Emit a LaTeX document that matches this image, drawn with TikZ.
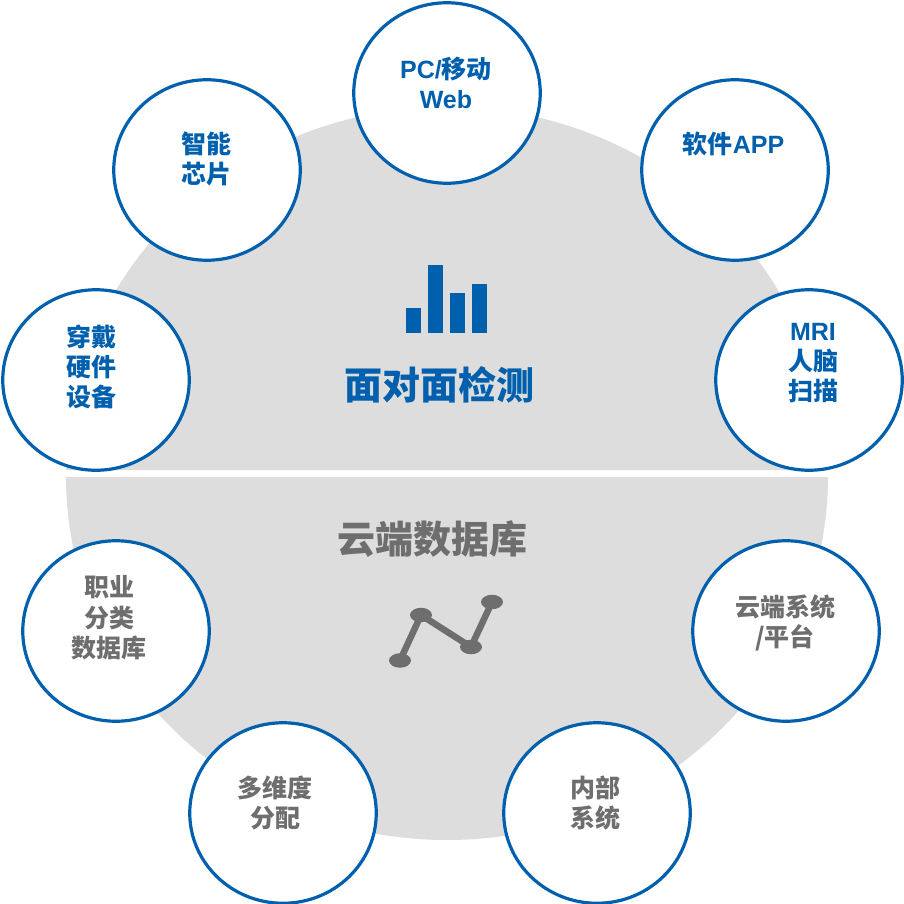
\documentclass[tikz,border=0pt]{standalone}
\usepackage{fontspec}
\setmainfont{Liberation Sans}
\newfontfamily\cjk{Noto Sans CJK SC}
\definecolor{bluec}{HTML}{0060AE}
\definecolor{grayc}{HTML}{6E6E6E}
\definecolor{disc}{HTML}{DDDDDD}
\tikzset{
  bubble/.style={draw=bluec,line width=3.2pt,fill=white,ellipse,minimum width=186.5pt,minimum height=180.5pt,inner sep=0pt},
  btext/.style={text=bluec,font=\fontsize{25}{30.3}\selectfont\bfseries\cjk,align=center,inner sep=0pt},
  gtext/.style={text=grayc,font=\fontsize{25}{30.3}\selectfont\bfseries\cjk,align=center,inner sep=0pt},
  bar/.style={fill=bluec,draw=none},
  dot/.style={ellipse,fill=grayc,draw=none,minimum width=22pt,minimum height=14.5pt,inner sep=0pt},
  link/.style={draw=grayc,line width=6.5pt},
}
\usetikzlibrary{shapes.geometric}
\newcommand{\lat}[1]{{\rmfamily\bfseries #1}}
\begin{document}
\begin{tikzpicture}[x=1pt,y=-1pt]
\useasboundingbox (0,0) rectangle (904,904);
\fill[disc] (66,470) arc[x radius=381,y radius=363,start angle=180,end angle=360] -- cycle;
\fill[disc] (66,477) arc[x radius=381,y radius=363,start angle=180,end angle=0] -- cycle;
\node[bubble] (pc) at (447,93) {};
\node[bubble] (soft) at (735,170) {};
\node[bubble] (mri) at (809,380) {};
\node[bubble] (cloud) at (786,631) {};
\node[bubble] (inner) at (597,813) {};
\node[bubble] (multi) at (283,813) {};
\node[bubble] (job) at (116,631) {};
\node[bubble] (wear) at (96,380) {};
\node[bubble] (chip) at (207,170) {};
\node[btext] (tpc) at (446,83) {\lat{PC/}移动\\[0pt]\lat{Web}};
\node[btext] (tsoft) at (733.5,144) {软件\lat{APP}};
\node[btext] (tmri) at (813,363) {\lat{MRI}\\人脑\\扫描};
\node[btext] (twear) at (91,367) {穿戴\\硬件\\设备};
\node[btext] (tchip) at (206,159) {智能\\芯片};
\node[gtext] (tjob) at (109,618) {职业\\分类\\数据库};
\node[gtext] (tcloud) at (785,623) {云端系统\\/平台};
\node[gtext] (tinner) at (595,803) {内部\\系统};
\node[gtext] (tmulti) at (275,803) {多维度\\分配};
\node[text=bluec,font=\fontsize{38}{40}\selectfont\bfseries\cjk,inner sep=0pt] (title1) at (439,385) {面对面检测};
\node[text=grayc,font=\fontsize{38}{40}\selectfont\bfseries\cjk,inner sep=0pt] (title2) at (432,539) {云端数据库};
\fill[bar] (406,308) rectangle (421,333);
\fill[bar] (428,265) rectangle (443,333);
\fill[bar] (449.5,293) rectangle (465,333);
\fill[bar] (471.5,284) rectangle (487,333);
\node[dot] (d1) at (400,660.5) {};
\node[dot] (d2) at (421,615) {};
\node[dot] (d3) at (471,647) {};
\node[dot] (d4) at (492,602) {};
\draw[link] (d1.center) -- (d2.center) -- (d3.center) -- (d4.center);
\end{tikzpicture}
\end{document}
